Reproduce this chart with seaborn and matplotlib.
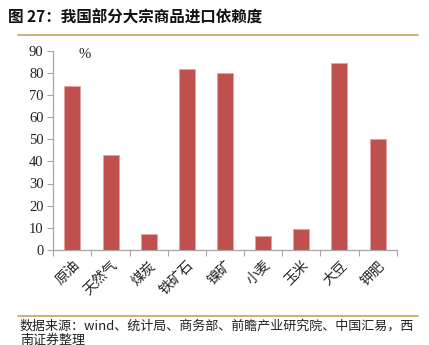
import matplotlib
matplotlib.use("Agg")
import matplotlib.pyplot as plt
import seaborn as sns
import numpy as np
import pandas as pd
from matplotlib.lines import Line2D

categories = ["原油", "天然气", "煤炭", "铁矿石", "镍矿", "小麦", "玉米", "大豆", "钾肥"]
dependency = [74, 43, 7.4, 81.5, 80, 6.4, 9.5, 84.2, 50]
y_ticks = [0, 10, 20, 30, 40, 50, 60, 70, 80, 90]

sns.set_theme(style="white")
plt.rcParams["font.family"] = ["Noto Sans CJK SC", "DejaVu Sans"]

W, H = 429, 345
fig = plt.figure(figsize=(W / 100, H / 100), dpi=100)
ax = fig.add_axes([53.3 / W, 1 - 250 / H, (396.7 - 53.3) / W, (250 - 50.5) / H])

df = pd.DataFrame({"cat": categories, "val": dependency})
sns.barplot(data=df, x="cat", y="val", color="#C0504D", saturation=1,
            width=0.42, ax=ax, edgecolor="#E6A3A1", linewidth=0.6)

ax.set_xlim(-0.5, len(categories) - 0.5)
ax.set_ylim(0, 90)
ax.set_yticks(y_ticks)
ax.set_yticklabels([str(t) for t in y_ticks], fontfamily="Liberation Serif",
                   fontsize=10.5, color="#222222")
ax.set_xlabel("")
ax.set_ylabel("")

ax.set_xticks(np.arange(len(categories)))
ax.set_xticklabels(categories, rotation=45, ha="right", rotation_mode="anchor",
                   fontsize=10, color="#222222")
ax.set_xticks(np.arange(-0.5, len(categories), 1), minor=True)
ax.tick_params(axis="x", which="major", length=0, pad=6)
ax.tick_params(axis="x", which="minor", length=4, width=0.8, color="#A6A6A6",
               direction="out", bottom=True)
ax.tick_params(axis="y", length=4, width=0.8, color="#A6A6A6", direction="out",
               left=True, pad=3)

for side in ["top", "right"]:
    ax.spines[side].set_visible(False)
for side in ["left", "bottom"]:
    ax.spines[side].set_color("#A6A6A6")
    ax.spines[side].set_linewidth(0.9)

ax.text(0.33, 88.3, "%", fontfamily="Liberation Serif", fontsize=10.5,
        color="#222222", ha="center", va="center")

fig.text(8 / W, 1 - 18 / H, "图 27：我国部分大宗商品进口依赖度", fontsize=11.2,
         fontweight="bold", color="#111111", va="center", ha="left")
fig.add_artist(Line2D([18 / W, 418 / W], [1 - 34.5 / H, 1 - 34.5 / H],
                      color="#C9A064", linewidth=1.2))
fig.add_artist(Line2D([18 / W, 418 / W], [1 - 316 / H, 1 - 316 / H],
                      color="#C9A064", linewidth=1.2))
fig.text(20 / W, 1 - 326 / H,
         "数据来源：wind、统计局、商务部、前瞻产业研究院、中国汇易，西",
         fontsize=9.4, style="italic", color="#222222", va="center", ha="left")
fig.text(20 / W, 1 - 340 / H, "南证券整理",
         fontsize=9.4, style="italic", color="#222222", va="center", ha="left")

fig.savefig("out.png", dpi=100, facecolor="white")
